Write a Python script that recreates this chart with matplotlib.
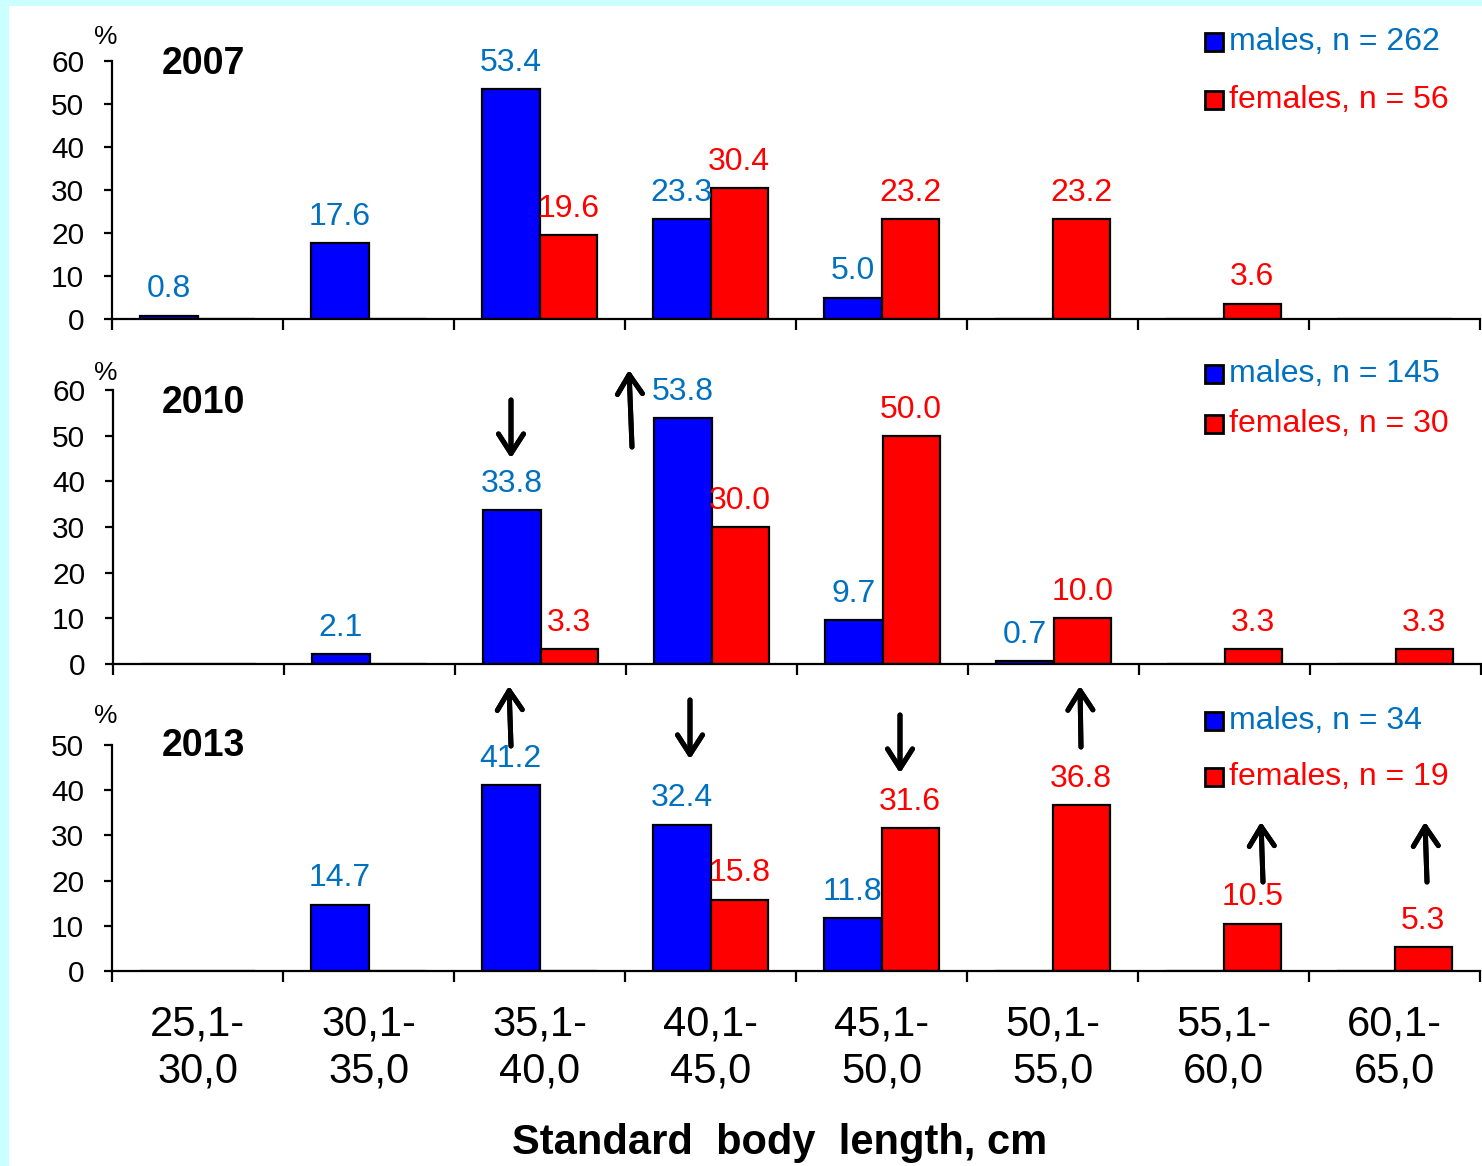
import matplotlib
matplotlib.use("Agg")
import matplotlib.pyplot as plt
from matplotlib.patches import Rectangle
from matplotlib.lines import Line2D
import numpy as np

plt.rcParams['font.family'] = ['Liberation Sans', 'DejaVu Sans']

classes = ['25,1-\n30,0', '30,1-\n35,0', '35,1-\n40,0', '40,1-\n45,0',
           '45,1-\n50,0', '50,1-\n55,0', '55,1-\n60,0', '60,1-\n65,0']

years = ['2007', '2010', '2013']
males_2007 = [0.8, 17.6, 53.4, 23.3, 5.0, 0, 0, 0]
females_2007 = [0, 0, 19.6, 30.4, 23.2, 23.2, 3.6, 0]
males_2010 = [0, 2.1, 33.8, 53.8, 9.7, 0.7, 0, 0]
females_2010 = [0, 0, 3.3, 30.0, 50.0, 10.0, 3.3, 3.3]
males_2013 = [0, 14.7, 41.2, 32.4, 11.8, 0, 0, 0]
females_2013 = [0, 0, 0, 15.8, 31.6, 36.8, 10.5, 5.3]
n_males = [262, 145, 34]
n_females = [56, 30, 19]
ymax = [60, 60, 50]

W, H = 1482, 1166
fig = plt.figure(figsize=(W / 100, H / 100), dpi=100, facecolor='#ccffff')
fig.add_artist(Rectangle((9 / W, 0), 1 - 9 / W, 1 - 6 / H, transform=fig.transFigure,
                         facecolor='white', edgecolor='none', zorder=0))

def fx(px):
    return px / W

def fy(py):
    return 1 - py / H

# axes boxes in pixels: (left, right, top, bottom)
boxes = [(112, 1480, 61, 319), (113, 1481, 390, 664), (112, 1480, 745, 971)]
males_all = [males_2007, males_2010, males_2013]
females_all = [females_2007, females_2010, females_2013]

blue_txt = '#0070C0'
red_txt = '#FF0000'
x = np.arange(len(classes))
bw = 0.335

year_y = [64, 403, 746]
pct_y = [37, 373, 716]
leg_y = [(42, 100), (374, 424), (721, 777)]

for i, (l, r, t, b) in enumerate(boxes):
    ax = fig.add_axes([fx(l), fy(b), fx(r) - fx(l), fy(t) - fy(b)])
    ax.set_facecolor('none')
    m = np.array(males_all[i])
    f = np.array(females_all[i])
    ax.bar(x - bw / 2, m, bw, color='#0000FF', edgecolor='black', linewidth=1.6)
    ax.bar(x + bw / 2, f, bw, color='#FF0000', edgecolor='black', linewidth=1.6)
    for xi, v in zip(x - bw / 2, m):
        if v > 0:
            ax.annotate(f'{v:.1f}', (xi, v), xytext=(0, 8), textcoords='offset points',
                        ha='center', va='bottom', fontsize=23, color=blue_txt)
    for xi, v in zip(x + bw / 2, f):
        if v > 0:
            ax.annotate(f'{v:.1f}', (xi, v), xytext=(0, 8), textcoords='offset points',
                        ha='center', va='bottom', fontsize=23, color=red_txt)
    ax.set_xlim(-0.5, len(classes) - 0.5)
    ax.set_ylim(0, ymax[i])
    ax.set_yticks(np.arange(0, ymax[i] + 1, 10))
    ax.spines['top'].set_visible(False)
    ax.spines['right'].set_visible(False)
    ax.spines['left'].set_linewidth(1.6)
    ax.spines['bottom'].set_linewidth(1.6)
    ax.tick_params(axis='y', labelsize=21.5, length=6, width=1.6, pad=14)
    ax.set_xticks(x)
    ax.set_xticks(np.arange(-0.5, len(classes), 1), minor=True)
    ax.tick_params(axis='x', which='major', length=0)
    ax.tick_params(axis='x', which='minor', length=8, width=1.6)
    if i == 2:
        ax.set_xticklabels(classes, fontsize=30, linespacing=1.22)
        ax.tick_params(axis='x', which='major', pad=24)
    else:
        ax.set_xticklabels([])
    fig.text(fx(106), fy(pct_y[i]), '%', fontsize=19, ha='center', va='center')
    fig.text(fx(162), fy(year_y[i]), years[i], fontsize=27, fontweight='bold',
             ha='left', va='center')
    # legend
    y1, y2 = leg_y[i]
    fig.add_artist(Line2D([fx(1214)], [fy(y1)], marker='s', markersize=12.5,
                          markerfacecolor='#0000FF', markeredgecolor='black',
                          markeredgewidth=2, transform=fig.transFigure))
    fig.add_artist(Line2D([fx(1214)], [fy(y2)], marker='s', markersize=12.5,
                          markerfacecolor='#FF0000', markeredgecolor='black',
                          markeredgewidth=2, transform=fig.transFigure))
    fig.text(fx(1229), fy(y1), f'males, n = {n_males[i]}', fontsize=23,
             color=blue_txt, ha='left', va='center')
    fig.text(fx(1229), fy(y2), f'females, n = {n_females[i]}', fontsize=23,
             color=red_txt, ha='left', va='center')

fig.text(fx(780), fy(1143), 'Standard  body  length, cm', fontsize=30,
         fontweight='bold', ha='center', va='center')

# trend arrows (tail -> tip, pixels)
arrows = [((511, 400), (511, 458)), ((632, 447), (629, 370)),
          ((511, 746), (509, 686)), ((690, 700), (690, 759)),
          ((900, 715), (900, 773)), ((1081, 747), (1080, 686)),
          ((1263, 882), (1261, 822)), ((1427, 882), (1425, 822))]
for (x0, y0), (x1, y1) in arrows:
    fig.add_artist(plt.annotate('', xy=(fx(x1), fy(y1)), xytext=(fx(x0), fy(y0)),
                                xycoords=fig.transFigure, textcoords=fig.transFigure,
                                arrowprops=dict(arrowstyle='->,head_length=0.7,head_width=0.45',
                                                lw=3.6, color='black', mutation_scale=20,
                                                shrinkA=0, shrinkB=0)))

fig.savefig('out.png', dpi=100, facecolor=fig.get_facecolor())
